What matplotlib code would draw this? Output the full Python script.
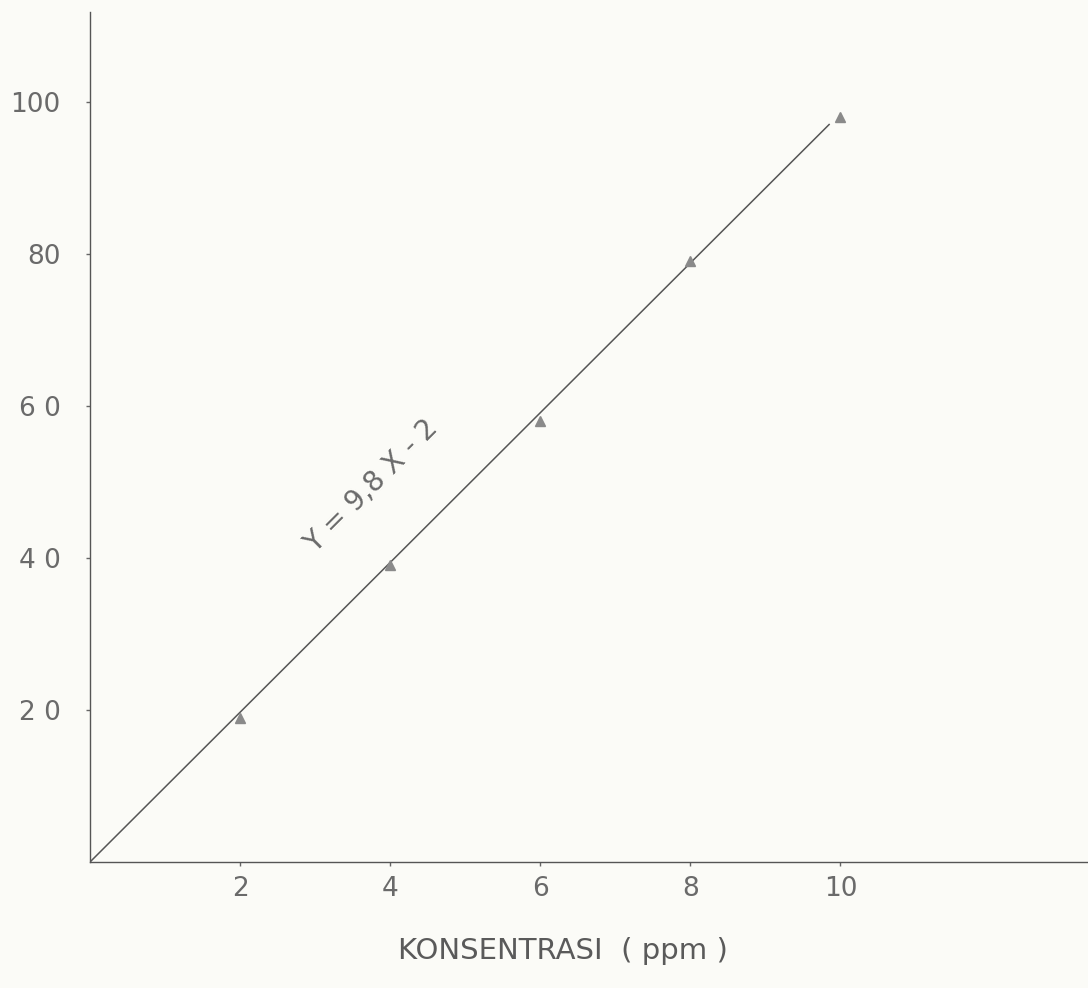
import matplotlib
matplotlib.use("Agg")
import matplotlib.pyplot as plt

# Data
conc = [2, 4, 6, 8, 10]
absorb = [19, 39, 58, 79, 98]
line_x = [0, 9.85]
line_y = [0, 97]
x_ticks = [2, 4, 6, 8, 10]
x_labels = ["2", "4", "6", "8", "10"]
y_ticks = [20, 40, 60, 80, 100]
y_labels = ["2 0", "4 0", "6 0", "80", "100"]
equation = "Y = 9,8 X - 2"
x_title = "KONSENTRASI  ( ppm )"

fig = plt.figure(figsize=(10.88, 9.88), dpi=100, facecolor="#fbfbf7")
ax = fig.add_axes([90/1088, (988-862)/988, (1088-90)/1088, (862-12)/988])
ax.set_facecolor("none")

ax.plot(line_x, line_y, color="#555555", lw=1.1)
ax.plot(conc, absorb, linestyle="none", marker="^", ms=7, color="#8a8a8a",
        markeredgecolor="#8a8a8a")

ax.set_xlim(0, 13.3)
ax.set_ylim(0, 111.8)
ax.set_xticks(x_ticks)
ax.set_xticklabels(x_labels)
ax.set_yticks(y_ticks)
ax.set_yticklabels(y_labels)

for s in ["top", "right"]:
    ax.spines[s].set_visible(False)
for s in ["left", "bottom"]:
    ax.spines[s].set_color("#555555")
    ax.spines[s].set_linewidth(1.0)

ax.tick_params(axis="both", length=3, width=1, color="#666666",
               labelcolor="#6a6a6a", labelsize=19)
ax.tick_params(axis="x", pad=7)
ax.tick_params(axis="y", pad=18)

ax.text(3.75, 49.5, equation, rotation=45, rotation_mode="anchor",
        ha="center", va="center", fontsize=20, color="#6a6a6a")

ax.set_xlabel(x_title, fontsize=21, color="#5a5a5a")
ax.xaxis.set_label_coords((563-90)/998, -(937-862)/850)

fig.savefig("out.png", dpi=100, facecolor=fig.get_facecolor())
